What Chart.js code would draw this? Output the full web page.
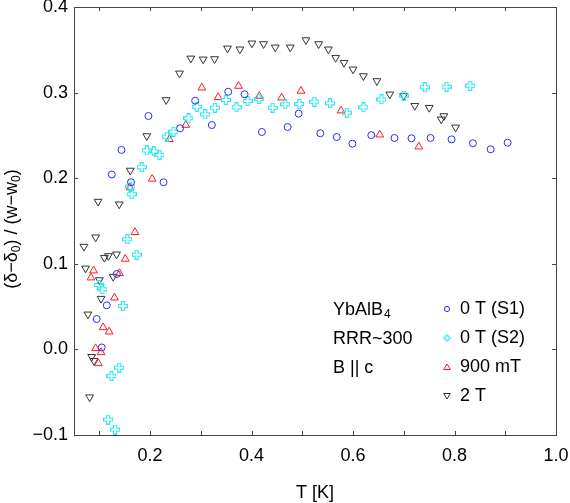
<!DOCTYPE html>
<html><head><meta charset="utf-8">
<script src="https://cdn.jsdelivr.net/npm/chart.js@4/dist/chart.umd.min.js"></script>
<style>html,body{margin:0;padding:0;background:#fff}canvas{display:block}</style>
</head><body>
<canvas id="c" width="570" height="503"></canvas>
<script>
// ---- data ----
const s1T = [0.0947,0.1046,0.1146,0.1245,0.1344,0.1437,0.1623,0.1967,0.2265,0.2592,0.2888,0.3217,0.3539,0.3862,0.4204,0.4711,0.4928,0.5355,0.5678,0.5987,0.6360,0.6817,0.7152,0.7527,0.7942,0.8362,0.8712,0.9047];
const s1V = [0.0355,0.0023,0.0515,0.2043,0.0881,0.2330,0.1953,0.2727,0.1953,0.2583,0.2906,0.2621,0.3010,0.2980,0.2540,0.2598,0.2754,0.2525,0.2481,0.2403,0.2503,0.2470,0.2466,0.2470,0.2454,0.2408,0.2338,0.2415];

const s2T = [0.0993,0.1060,0.1172,0.1238,0.1311,0.1391,0.1464,0.1550,0.1610,0.1636,0.1735,0.1834,0.1934,0.2073,0.2185,0.2330,0.2460,0.2756,0.2921,0.3086,0.3276,0.3493,0.3704,0.3921,0.4151,0.4414,0.4664,0.4941,0.5237,0.5546,0.5875,0.6204,0.6560,0.7000,0.7415,0.7843,0.8311];
const s2V = [0.0752,0.0702,-0.0819,-0.0312,-0.0936,-0.0214,0.0507,0.1287,0.1903,0.1813,0.1107,0.2129,0.2324,0.2312,0.2273,0.2485,0.2543,0.2700,0.2836,0.2746,0.2824,0.2914,0.2828,0.2902,0.2925,0.2824,0.2863,0.2867,0.2894,0.2875,0.2765,0.2828,0.2920,0.2964,0.3062,0.3069,0.3081];

const m900T = [0.0834,0.0887,0.0927,0.0980,0.1033,0.1073,0.1192,0.1298,0.1397,0.1510,0.1603,0.1702,0.2040,0.2381,0.2704,0.3020,0.3342,0.3743,0.4151,0.4592,0.4974,0.5763,0.6527,0.7296];
const m900V = [0.0838,0.0920,0.0012,-0.0164,-0.0035,0.0257,0.0207,0.0604,0.0889,0.1057,0.1890,0.1368,0.1992,0.2455,0.2621,0.3057,0.2945,0.3077,0.2960,0.2940,0.3019,0.2789,0.2508,0.2368];

const t2T = [0.0695,0.0728,0.0775,0.0808,0.0848,0.0894,0.0927,0.0974,0.1000,0.1033,0.1099,0.1179,0.1272,0.1338,0.1391,0.1609,0.1935,0.2316,0.2579,0.2803,0.3046,0.3270,0.3526,0.3770,0.4007,0.4237,0.4467,0.4763,0.5072,0.5322,0.5513,0.5658,0.5822,0.6000,0.6204,0.6470,0.6724,0.7000,0.7217,0.7501,0.7738,0.7790,0.8021];
const t2V = [0.1201,0.0947,0.0410,-0.0558,-0.0086,-0.0133,0.1310,0.1727,0.0811,0.0593,0.1072,0.1092,0.0850,0.1111,0.1696,0.2090,0.2493,0.2914,0.3225,0.3400,0.3389,0.3393,0.3517,0.3506,0.3576,0.3568,0.3529,0.3529,0.3614,0.3568,0.3506,0.3408,0.3349,0.3272,0.3194,0.3136,0.2980,0.2964,0.2847,0.2824,0.2688,0.2727,0.2594];

const seriesNames = ['0 T (S1)','0 T (S2)','900 mT','2 T'];
const sampleLines = ['YbAlB4','RRR~300','B || c'];
const xTicks = [0.1,0.2,0.3,0.4,0.5,0.6,0.7,0.8,0.9,1.0];
const xLabelTicks = [0.2,0.4,0.6,0.8,1.0];
const yTicks = [-0.1,0.0,0.1,0.2,0.3,0.4];

// ---- styles ----
const FONT = '"Liberation Sans", Arial, Helvetica, sans-serif';
const colBlue = '#2b2bff', colCyan = '#22e8f0', colRed = '#ff1a1a', colBlack = '#333333';

function plusImage(size, color){
  const c = document.createElement('canvas');
  c.width = size; c.height = size;
  const g = c.getContext('2d');
  const a = Math.round(size/3);
  const lo = a + 0.5, hi = size - a - 0.5, e0 = 0.5, e1 = size - 0.5;
  g.strokeStyle = color; g.lineWidth = 1.1;
  g.beginPath();
  g.moveTo(lo,e0); g.lineTo(hi,e0); g.lineTo(hi,lo); g.lineTo(e1,lo); g.lineTo(e1,hi);
  g.lineTo(hi,hi); g.lineTo(hi,e1); g.lineTo(lo,e1); g.lineTo(lo,hi); g.lineTo(e0,hi);
  g.lineTo(e0,lo); g.lineTo(lo,lo); g.closePath(); g.stroke();
  return c;
}
const plusBig = plusImage(10, colCyan);

const zip = (xs, ys) => xs.map((x,i)=>({x, y: ys[i]}));

const fmt = v => { const s = Math.abs(v).toFixed(1); return (v < -1e-9 ? '\u2212' : '') + s; };

const framePlugin = {
  id: 'frame',
  afterDraw(chart){
    const {ctx, chartArea: a, scales:{x, y}} = chart;
    ctx.save();
    // box
    ctx.strokeStyle = '#444'; ctx.lineWidth = 1;
    ctx.strokeRect(Math.round(a.left)+0.5, Math.round(a.top)+0.5, Math.round(a.right-a.left), Math.round(a.bottom-a.top));
    // inward ticks
    const L = 4;
    ctx.beginPath();
    xTicks.forEach(v => {
      const px = Math.round(x.getPixelForValue(v)) + 0.5;
      ctx.moveTo(px, a.bottom); ctx.lineTo(px, a.bottom - L);
      ctx.moveTo(px, a.top); ctx.lineTo(px, a.top + L);
    });
    yTicks.forEach(v => {
      const py = Math.round(y.getPixelForValue(v)) + 0.5;
      ctx.moveTo(a.left, py); ctx.lineTo(a.left + L, py);
      ctx.moveTo(a.right, py); ctx.lineTo(a.right - L, py);
    });
    ctx.stroke();

    ctx.fillStyle = '#000';
    // x title
    ctx.font = '18px ' + FONT;
    ctx.textAlign = 'center'; ctx.textBaseline = 'middle';
    ctx.fillText('T [K]', (a.left + a.right)/2, 493);

    // y title with subscripts
    ctx.save();
    ctx.translate(12, (a.top + a.bottom)/2 + 8);
    ctx.rotate(-Math.PI/2);
    const parts = [['(\u03b4\u2212\u03b4',0],['0',1],[') / (w\u2212w',0],['0',1],[')',0]];
    const fN = '18px ' + FONT, fS = '12px ' + FONT;
    let tw = 0;
    parts.forEach(p => { ctx.font = p[1] ? fS : fN; tw += ctx.measureText(p[0]).width; });
    let cx = -tw/2;
    ctx.textAlign = 'left'; ctx.textBaseline = 'middle';
    parts.forEach(p => {
      ctx.font = p[1] ? fS : fN;
      ctx.fillText(p[0], cx, p[1] ? 5 : 0);
      cx += ctx.measureText(p[0]).width;
    });
    ctx.restore();

    // sample info text
    ctx.textAlign = 'left'; ctx.textBaseline = 'middle';
    ctx.font = fN;
    const sx = 333, sy = [310, 339, 368];
    // YbAlB4 with subscript
    ctx.fillText('YbAlB', sx, sy[0]);
    const w1 = ctx.measureText('YbAlB').width;
    ctx.font = '12px ' + FONT;
    ctx.fillText('4', sx + w1 + 1, sy[0] + 5);
    ctx.font = fN;
    ctx.fillText(sampleLines[1], sx, sy[1]);
    ctx.fillText(sampleLines[2], sx, sy[2]);

    // legend
    const lx = 447, tx = 460, ly = [309, 338, 367, 396];
    chart.data.datasets.forEach((ds, i) => {
      const cy = ly[i];
      ctx.strokeStyle = ds.borderColor; ctx.lineWidth = 1;
      ctx.beginPath();
      if (i === 0) { ctx.arc(lx, cy, 2.6, 0, Math.PI*2); }
      else if (i === 1) {
        const s = 3, w = 1;
        ctx.moveTo(lx-w,cy-s); ctx.lineTo(lx+w,cy-s); ctx.lineTo(lx+w,cy-w); ctx.lineTo(lx+s,cy-w);
        ctx.lineTo(lx+s,cy+w); ctx.lineTo(lx+w,cy+w); ctx.lineTo(lx+w,cy+s); ctx.lineTo(lx-w,cy+s);
        ctx.lineTo(lx-w,cy+w); ctx.lineTo(lx-s,cy+w); ctx.lineTo(lx-s,cy-w); ctx.lineTo(lx-w,cy-w); ctx.closePath();
      } else if (i === 2) {
        ctx.moveTo(lx, cy-3); ctx.lineTo(lx+3.3, cy+2.5); ctx.lineTo(lx-3.3, cy+2.5); ctx.closePath();
      } else {
        ctx.moveTo(lx, cy+3); ctx.lineTo(lx+3.3, cy-2.5); ctx.lineTo(lx-3.3, cy-2.5); ctx.closePath();
      }
      ctx.stroke();
      ctx.fillStyle = '#000';
      ctx.font = fN;
      ctx.fillText(ds.label, tx, cy);
    });
    ctx.restore();
  }
};

new Chart(document.getElementById('c'), {
  type: 'scatter',
  data: {
    datasets: [
      { label: seriesNames[0], data: zip(s1T, s1V), pointStyle: 'circle', pointRadius: 3.5, borderColor: colBlue, backgroundColor: 'rgba(0,0,0,0)', borderWidth: 1 },
      { label: seriesNames[1], data: zip(s2T, s2V), pointStyle: plusBig, pointRadius: 5, borderColor: colCyan, backgroundColor: 'rgba(0,0,0,0)', borderWidth: 1 },
      { label: seriesNames[2], data: zip(m900T, m900V), pointStyle: 'triangle', pointRadius: 4.5, borderColor: colRed, backgroundColor: 'rgba(0,0,0,0)', borderWidth: 1 },
      { label: seriesNames[3], data: zip(t2T, t2V), pointStyle: 'triangle', rotation: 180, pointRadius: 4.5, borderColor: colBlack, backgroundColor: 'rgba(0,0,0,0)', borderWidth: 1 }
    ]
  },
  options: {
    responsive: false,
    animation: false,
    devicePixelRatio: 1,
    layout: { padding: { top: 7, right: 14, left: 0, bottom: 0 } },
    plugins: { legend: { display: false }, tooltip: { enabled: false } },
    elements: { point: { hoverRadius: 4 } },
    scales: {
      x: {
        type: 'linear', min: 0.05, max: 1.0,
        afterBuildTicks: s => { s.ticks = xTicks.map(v => ({ value: v })); },
        afterFit: s => { s.height = 68; s.paddingLeft = 0; s.paddingRight = 0; },
        grid: { display: false, drawTicks: false },
        border: { display: false },
        ticks: {
          padding: 10, color: '#000', font: { family: FONT, size: 18 },
          autoSkip: false, maxRotation: 0,
          callback: v => xLabelTicks.some(t => Math.abs(t - v) < 1e-6) ? v.toFixed(1) : ''
        }
      },
      y: {
        type: 'linear', min: -0.1, max: 0.4,
        afterBuildTicks: s => { s.ticks = yTicks.map(v => ({ value: v })); },
        afterFit: s => { s.width = 74; s.paddingTop = 0; s.paddingBottom = 0; },
        grid: { display: false, drawTicks: false },
        border: { display: false },
        ticks: { padding: 6, color: '#000', font: { family: FONT, size: 18 }, callback: v => fmt(v) }
      }
    }
  },
  plugins: [framePlugin]
});
</script>
</body></html>
